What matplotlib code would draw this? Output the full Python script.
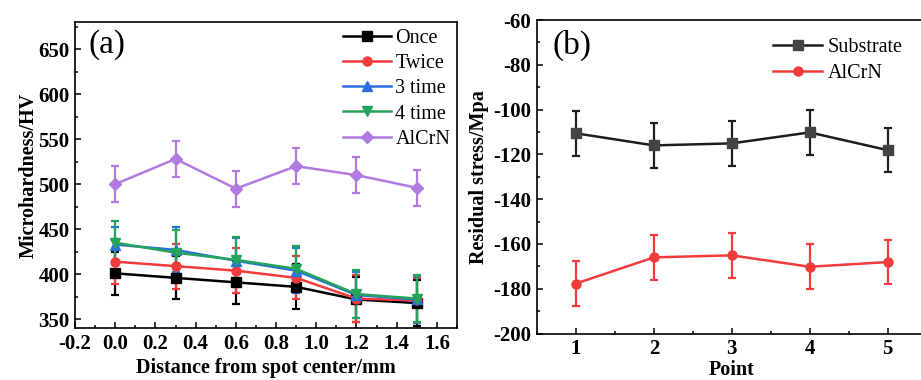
import matplotlib
matplotlib.use("Agg")
import matplotlib.pyplot as plt
from matplotlib.ticker import MultipleLocator
from matplotlib.lines import Line2D

plt.rcParams['font.family'] = ['Liberation Serif', 'DejaVu Serif']
plt.rcParams['axes.unicode_minus'] = False

# ---- Data: panel (a) ----
distance = [0.0, 0.3, 0.6, 0.9, 1.2, 1.5]
once = [401, 396, 391, 386, 372, 368]
once_err = [24, 24, 24, 25, 25, 26]
twice = [414, 409, 404, 396, 373, 371]
twice_err = [25, 25, 25, 24, 26, 25]
time3 = [433, 427, 415, 404, 377, 372]
time3_err = [19, 25, 25, 25, 26, 26]
time4 = [435, 424, 416, 406, 378, 373]
time4_err = [24, 25, 25, 25, 27, 26]
alcrn_a = [500, 528, 495, 520, 510, 496]
alcrn_a_err = [20, 20, 20, 20, 20, 20]

# ---- Data: panel (b) ----
points = [1, 2, 3, 4, 5]
substrate = [-110.6, -116.0, -115.1, -110.2, -118.1]
substrate_err = [10, 10, 10, 10, 10]
alcrn_b = [-177.7, -166.0, -165.1, -170.2, -168.1]
alcrn_b_err = [10, 10, 10, 10, 10]

W, H = 921, 380
fig = plt.figure(figsize=(W / 100, H / 100), dpi=100)

def ax_rect(x0, y0, x1, y1):
    return [x0 / W, (H - y1) / H, (x1 - x0) / W, (y1 - y0) / H]

axa = fig.add_axes(ax_rect(75, 22, 457, 328.3))
axb = fig.add_axes(ax_rect(537, 20, 926.5, 333.5))

RED = '#f23b3b'
BLUE = '#2a6fe0'
GREEN = '#26a35a'
PURPLE = '#b07ae0'

def series(ax, x, y, e, color, marker, label, ms=6.5, mfc=None):
    ax.errorbar(x, y, yerr=e, color=color, marker=marker, ms=ms, lw=1.8,
                elinewidth=1.6, capsize=3, capthick=1.6,
                ecolor=color, mec=mfc or color, mfc=mfc or color)
    return Line2D([], [], color=color, marker=marker, ms=ms, lw=1.8,
                  mec=mfc or color, mfc=mfc or color, label=label)

ha = [
    series(axa, distance, once, once_err, 'black', 's', 'Once'),
    series(axa, distance, twice, twice_err, RED, 'o', 'Twice'),
    series(axa, distance, time3, time3_err, BLUE, '^', '3 time'),
    series(axa, distance, time4, time4_err, GREEN, 'v', '4 time'),
    series(axa, distance, alcrn_a, alcrn_a_err, PURPLE, 'D', 'AlCrN', ms=6),
]
hb = [
    series(axb, points, substrate, substrate_err, '#1e1e1e', 's', 'Substrate', mfc='#444444'),
    series(axb, points, alcrn_b, alcrn_b_err, RED, 'o', 'AlCrN'),
]

axa.set_xlim(-0.2, 1.7)
axa.set_ylim(340, 680)
axa.xaxis.set_minor_locator(MultipleLocator(0.1))
axa.yaxis.set_minor_locator(MultipleLocator(25))
xt = [-0.2, 0.0, 0.2, 0.4, 0.6, 0.8, 1.0, 1.2, 1.4, 1.6]
axa.set_xticks(xt)
axa.set_xticklabels(['%.1f' % v for v in xt])
yt = [350, 400, 450, 500, 550, 600, 650]
axa.set_yticks(yt)
axa.set_yticklabels([str(v) for v in yt])

axb.set_xlim(0.5, 5.5)
axb.set_ylim(-200, -60)
axb.set_xticks(points)
axb.set_xticklabels([str(v) for v in points])
axb.xaxis.set_minor_locator(MultipleLocator(0.5))
ytb = list(range(-200, -59, 20))
axb.set_yticks(ytb)
axb.set_yticklabels([str(v) for v in ytb])
axb.yaxis.set_minor_locator(MultipleLocator(10))

for ax in (axa, axb):
    for s in ax.spines.values():
        s.set_linewidth(1.2)
    ax.tick_params(which='both', direction='in', top=False, right=False, width=1.1)
    ax.tick_params(which='major', length=4, labelsize=15, pad=4)
    ax.tick_params(which='minor', length=2.5)
    for lbl in ax.get_xticklabels() + ax.get_yticklabels():
        lbl.set_fontweight('bold')

axa.set_xlabel('Distance from spot center/mm', fontsize=14.5, fontweight='bold', labelpad=3)
axa.set_ylabel('Microhardness/HV', fontsize=14.5, fontweight='bold', labelpad=0)
axb.set_xlabel('Point', fontsize=14.5, fontweight='bold', labelpad=0.5)
axb.set_ylabel('Residual stress/Mpa', fontsize=14.5, fontweight='bold', labelpad=3)

fig.text(88 / W, 1 - 45 / H, '(a)', fontsize=24, va='center', ha='left')
fig.text(552 / W, 1 - 45 / H, '(b)', fontsize=24, va='center', ha='left')

axa.legend(handles=ha, loc='upper left', bbox_to_anchor=(343 / W, 1 - 29 / H),
           bbox_transform=fig.transFigure, frameon=False, fontsize=14.5,
           handlelength=2.4, handletextpad=0.2, labelspacing=0.3,
           borderaxespad=0, borderpad=0)
axb.legend(handles=hb, loc='upper left', bbox_to_anchor=(773 / W, 1 - 38 / H),
           bbox_transform=fig.transFigure, frameon=False, fontsize=14.5,
           handlelength=2.45, handletextpad=0.25, labelspacing=0.32,
           borderaxespad=0, borderpad=0)

fig.savefig('out.png', dpi=100)
